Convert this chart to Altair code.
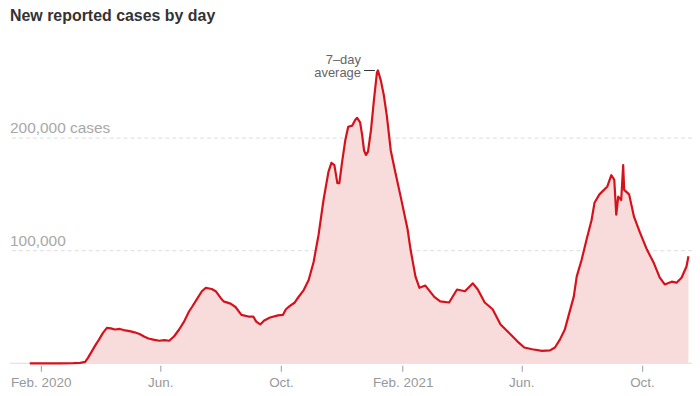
import altair as alt
import pandas as pd

dates = [
    "2020-01-21", "2020-02-20", "2020-03-05", "2020-03-12", "2020-03-17", "2020-03-20",
    "2020-03-24", "2020-03-28", "2020-03-31", "2020-04-04", "2020-04-08", "2020-04-12",
    "2020-04-16", "2020-04-21", "2020-04-25", "2020-05-01", "2020-05-06", "2020-05-11",
    "2020-05-16", "2020-05-20", "2020-05-25", "2020-05-31", "2020-06-05", "2020-06-10",
    "2020-06-15", "2020-06-20", "2020-06-25", "2020-06-30", "2020-07-03", "2020-07-08",
    "2020-07-13", "2020-07-17", "2020-07-23", "2020-07-27", "2020-08-01", "2020-08-04",
    "2020-08-11", "2020-08-16", "2020-08-22", "2020-08-29", "2020-09-03", "2020-09-06",
    "2020-09-10", "2020-09-14", "2020-09-20", "2020-09-28", "2020-10-03", "2020-10-06",
    "2020-10-10", "2020-10-15", "2020-10-18", "2020-10-24", "2020-10-29", "2020-11-03",
    "2020-11-08", "2020-11-13", "2020-11-18", "2020-11-21", "2020-11-24", "2020-11-27",
    "2020-11-29", "2020-12-02", "2020-12-05", "2020-12-08", "2020-12-12", "2020-12-15",
    "2020-12-17", "2020-12-20", "2020-12-22", "2020-12-24", "2020-12-26", "2020-12-28",
    "2020-12-31", "2021-01-03", "2021-01-06", "2021-01-07", "2021-01-10", "2021-01-13",
    "2021-01-16", "2021-01-20", "2021-01-24", "2021-01-30", "2021-02-06", "2021-02-09",
    "2021-02-14", "2021-02-18", "2021-02-24", "2021-03-05", "2021-03-11", "2021-03-20",
    "2021-03-28", "2021-04-05", "2021-04-13", "2021-04-18", "2021-04-25", "2021-05-03",
    "2021-05-11", "2021-05-21", "2021-05-28", "2021-06-04", "2021-06-12", "2021-06-22",
    "2021-06-30", "2021-07-05", "2021-07-10", "2021-07-15", "2021-07-19", "2021-07-24",
    "2021-07-27", "2021-08-01", "2021-08-06", "2021-08-11", "2021-08-14", "2021-08-19",
    "2021-08-27", "2021-08-31", "2021-09-03", "2021-09-05", "2021-09-07", "2021-09-10",
    "2021-09-12", "2021-09-13", "2021-09-18", "2021-09-23", "2021-09-29", "2021-10-06",
    "2021-10-13", "2021-10-19", "2021-10-24", "2021-10-31", "2021-11-05", "2021-11-10",
    "2021-11-15", "2021-11-17",
]
cases = [
    0, 0, 100, 400, 1200, 5000,
    11000, 17000, 21000, 27000, 31500, 31000,
    30000, 30500, 29500, 28500, 27500, 26000,
    23500, 22000, 21000, 20000, 20500, 20000,
    24000, 30000, 37000, 46000, 50000, 57000,
    64000, 67000, 66000, 64000, 58000, 55000,
    53000, 50000, 43000, 41500, 41500, 37000,
    34500, 38000, 40700, 42500, 43000, 48000,
    51000, 54000, 58000, 65000, 74000, 90000,
    114000, 145000, 170000, 178000, 176000, 160000,
    160000, 180000, 198000, 210000, 211000, 216000,
    218000, 214000, 203000, 189000, 185000, 188000,
    207000, 234000, 258000, 260000, 251000, 238000,
    220000, 189000, 172000, 148000, 119000, 101000,
    77000, 67000, 69000, 59000, 55000, 54000,
    65500, 64000, 71000, 65500, 54000, 48000,
    34500, 25700, 19500, 14000, 12500, 11000,
    11500, 14000, 21000, 30000, 43000, 59000,
    77000, 92000, 110000, 127000, 142500, 150000,
    157000, 167000, 163000, 132000, 148000, 145000,
    176000, 154000, 150000, 130000, 116000, 101000,
    89000, 76000, 70000, 72500, 71600, 76000,
    86000, 95000,
]

grid_values = [100000, 200000]
grid_labels = ["100,000", "200,000 cases"]

tick_dates = ["2020-02-01", "2020-06-01", "2020-10-01", "2021-02-01", "2021-06-01", "2021-10-01"]

note_date = ["2021-01-07"]
note_value = [260000]
note_text = [["7–day", "average"]]

title_text = ["New reported cases by day"]

df = pd.DataFrame({"date": dates, "cases": cases})
grid_df = pd.DataFrame({"v": grid_values, "label": grid_labels})
note_df = pd.DataFrame({"date": note_date, "cases": note_value, "text": note_text})
title_df = pd.DataFrame({"t": title_text})

FONT = "Liberation Sans"
RED = "#d5121b"
FILL = "#f8dcdc"

x_scale = alt.Scale(type="utc", domain=[alt.DateTime(year=2020, month=1, date=1, utc=True),
                                         alt.DateTime(year=2021, month=11, date=20, hours=14, utc=True)])
y_scale = alt.Scale(domain=[0, 290000], nice=False)

tick_vals = [alt.DateTime(year=int(d[:4]), month=int(d[5:7]), date=int(d[8:]), utc=True) for d in tick_dates]

x_enc = alt.X("date:T", scale=x_scale, title=None,
              axis=alt.Axis(values=tick_vals, domain=False, grid=False, tickSize=6, offset=2,
                            tickColor="#999", labelColor="#999", labelFontSize=13.5, labelFont=FONT,
                            labelPadding=4,
                            labelExpr="utcmonth(datum.value) == 1 ? 'Feb. ' + utcyear(datum.value) : (utcmonth(datum.value) == 5 ? 'Jun.' : 'Oct.')"))
y_enc = alt.Y("cases:Q", scale=y_scale, axis=None)

base = alt.Chart(df)

zero = alt.Chart(pd.DataFrame({"v": [0]})).mark_rule(color="#ddd", strokeWidth=1).encode(
    y=alt.Y("v:Q", scale=y_scale, axis=None))

grid = alt.Chart(grid_df).mark_rule(color="#ddd", strokeWidth=1, strokeDash=[4, 3]).encode(
    y=alt.Y("v:Q", scale=y_scale, axis=None))

grid_text = alt.Chart(grid_df).mark_text(align="left", baseline="alphabetic", dy=-5, fontSize=15.5,
                                         font=FONT, color="#a8a8a8").encode(
    x=alt.value(0), y=alt.Y("v:Q", scale=y_scale, axis=None), text="label:N")

area = base.mark_area(color=FILL, opacity=1).encode(x=x_enc, y=y_enc)
line = base.mark_line(color=RED, strokeWidth=2.2, strokeJoin="round").encode(x=x_enc, y=y_enc)

note_line = alt.Chart(note_df).mark_rule(color="#333", strokeWidth=1, xOffset=-14, x2Offset=-3).encode(
    x=alt.X("date:T", scale=x_scale), x2="date:T", y=alt.Y("cases:Q", scale=y_scale, axis=None))

note = alt.Chart(note_df).mark_text(align="right", baseline="alphabetic", dx=-17, dy=-7, fontSize=13,
                                    lineHeight=14, font=FONT, color="#666").encode(
    x=alt.X("date:T", scale=x_scale), y=alt.Y("cases:Q", scale=y_scale, axis=None), text="text")

title = alt.Chart(title_df).mark_text(align="left", baseline="alphabetic", fontSize=16, font=FONT,
                                      fontWeight="bold", color="#333").encode(
    x=alt.value(0), y=alt.value(-16), text="t:N")

chart = alt.layer(zero, grid, grid_text, area, line, note_line, note, title).properties(
    width=685, height=328,
    padding={"left": 2, "top": 28, "right": 0, "bottom": 28},
    autosize=alt.AutoSizeParams(type="none"),
    background="white",
).configure_view(stroke=None)

chart.save("out.html", embed_options={"renderer": "svg", "actions": False})
